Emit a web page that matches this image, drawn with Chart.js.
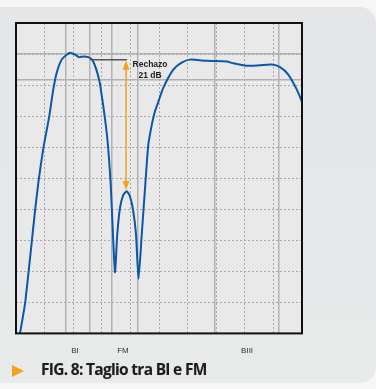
<!DOCTYPE html>
<html>
<head>
<meta charset="utf-8">
<script src="https://cdn.jsdelivr.net/npm/chart.js@4/dist/chart.umd.min.js"></script>
<style>
  html, body { margin: 0; padding: 0; background: #f6f6f6; }
  #wrap { position: relative; width: 376px; height: 389px; overflow: hidden; }
  #panel {
    position: absolute; left: -20px; top: 7px; width: 396px; height: 376px;
    background: linear-gradient(180deg, #e5e6e7 0%, #e7e8e9 70%, #e9eaea 100%);
    border-radius: 0 16px 16px 0;
  }
  canvas { position: absolute; left: 0; top: 0; }
  #caption {
    position: absolute; left: 41px; top: 358px;
    font-family: "Open Sans", sans-serif; font-weight: 700; font-size: 15.5px;
    color: #1e1e1e; letter-spacing: -0.7px; white-space: nowrap;
    text-shadow: 0 0 1px rgba(0,0,0,0.25);
  }
  #tri {
    position: absolute; left: 12px; top: 365px; width: 0; height: 0;
    border-top: 6px solid transparent; border-bottom: 6px solid transparent;
    border-left: 12px solid #f7a21b;
  }
</style>
</head>
<body>
<div id="wrap">
  <div id="panel"></div>
  <canvas id="grafico" width="376" height="389"></canvas>
  <div id="tri"></div>
  <div id="caption">FIG. 8: Taglio tra BI e FM</div>
</div>
<script>
// frecuencia (MHz) y nivel (dB)
const frecuencias = [3.5, 7.9, 10.8, 13.7, 16.6, 19.5, 23.9, 29.1, 32.6, 35.6, 39.9, 44.3, 47.2, 51.6, 55.1, 58.8, 63.2, 67.0,
  72.6, 76.3, 79.8, 82.8, 86.5, 88.5, 90.9, 93.8, 96.8, 99.6, 102.5, 104.9, 107.1, 109.9, 112.8, 115.6, 118.9, 121.5,
  124.4, 128.8, 137.5, 144.8, 152.1, 166.7, 184.2, 190.0, 201.7, 213.3, 223.5, 230.8, 238.0, 245.4, 250];
const niveles = [-50, -45.2, -40.4, -35.4, -30.3, -25.8, -20.2, -15.0, -10.7, -8.0, -5.9, -5.1, -4.8, -5.1, -5.5, -5.4, -5.5, -6.0,
  -9.1, -13.4, -18.6, -26.1, -40.1, -34.1, -29.8, -27.7, -27.1, -27.9, -30.3, -34.1, -41.2, -34.1, -26.6, -19.7, -16.2, -14.2,
  -12.7, -10.4, -7.5, -6.4, -5.9, -6.1, -6.2, -6.5, -6.9, -6.8, -6.7, -7.1, -8.3, -10.7, -12.7];

// bandas (etiquetas del eje) y lineas verticales continuas
const bandas = ["BI", "FM", "BIII"];
const bandasPos = [51.5, 93.5, 202];
const lineasX = [43.5, 64.8, 83.8, 106.5, 174, 230];
const lineasY = [-5, -9.2];

// rechazo
const rechazoRef = -5.9;
const rechazoPico = -26.9;
const rechazoX = [64.7, 96.2];
const rechazoTexto = ["Rechazo", "21 dB"];

const puntos = frecuencias.map((f, i) => ({ x: f, y: niveles[i] }));

const marco = {
  id: "marco",
  beforeDraw(chart) {
    const { ctx, chartArea: a } = chart;
    ctx.save();
    ctx.fillStyle = "#e9e9ea";
    ctx.fillRect(a.left, a.top, a.right - a.left, a.bottom - a.top);
    ctx.restore();
  },
  afterDatasetsDraw(chart) {
    const { ctx, chartArea: a, scales } = chart;
    ctx.save();
    ctx.strokeStyle = "#111";
    ctx.lineWidth = 2;
    ctx.strokeRect(a.left, a.top, a.right - a.left, a.bottom - a.top);

    const x0 = scales.x.getPixelForValue(rechazoX[0]);
    const xa = scales.x.getPixelForValue(rechazoX[1]);
    const yr = scales.y.getPixelForValue(rechazoRef);
    const yp = scales.y.getPixelForValue(rechazoPico);

    ctx.strokeStyle = "#555";
    ctx.lineWidth = 1.5;
    ctx.beginPath();
    ctx.moveTo(x0, yr);
    ctx.lineTo(xa + 1, yr);
    ctx.stroke();

    ctx.strokeStyle = "#f7a21b";
    ctx.fillStyle = "#f7a21b";
    ctx.lineWidth = 1.5;
    ctx.beginPath();
    ctx.moveTo(xa, yr + 8);
    ctx.lineTo(xa, yp - 8);
    ctx.stroke();
    ctx.beginPath();
    ctx.moveTo(xa, yr + 1);
    ctx.lineTo(xa - 3.5, yr + 10);
    ctx.lineTo(xa + 3.5, yr + 10);
    ctx.closePath();
    ctx.fill();
    ctx.beginPath();
    ctx.moveTo(xa, yp);
    ctx.lineTo(xa - 3.5, yp - 9);
    ctx.lineTo(xa + 3.5, yp - 9);
    ctx.closePath();
    ctx.fill();

    ctx.fillStyle = "#222";
    ctx.font = "bold 8.5px 'Liberation Sans', Arial, sans-serif";
    ctx.textAlign = "center";
    ctx.textBaseline = "middle";
    ctx.fillText(rechazoTexto[0], xa + 24, yr + 5);
    ctx.fillText(rechazoTexto[1], xa + 24, yr + 16);
    ctx.restore();
  }
};

new Chart(document.getElementById("grafico"), {
  type: "line",
  data: {
    datasets: [{
      data: puntos,
      borderColor: "#0b57a8",
      borderWidth: 2,
      pointRadius: 0,
      tension: 0.2,
      fill: false
    }]
  },
  options: {
    responsive: false,
    animation: false,
    events: [],
    layout: { padding: { left: 16, top: 23, right: 74, bottom: 28 } },
    plugins: { legend: { display: false }, tooltip: { enabled: false } },
    scales: {
      x: {
        type: "linear", min: 0, max: 250,
        ticks: { display: false, stepSize: 25 },
        grid: { color: "#a9a9a9", lineWidth: 1, drawTicks: false },
        border: { display: false, dash: [2, 2] }
      },
      xLineas: {
        type: "linear", position: "bottom", min: 0, max: 250,
        afterBuildTicks: axis => { axis.ticks = lineasX.map(v => ({ value: v })); },
        ticks: { display: false },
        grid: { color: "#b2b2b2", lineWidth: 1.5, drawTicks: false },
        border: { display: false }
      },
      xBandas: {
        type: "linear", position: "bottom", min: 0, max: 250,
        afterBuildTicks: axis => { axis.ticks = bandasPos.map(v => ({ value: v })); },
        ticks: {
          autoSkip: false, maxRotation: 0, padding: 5,
          color: "#333", font: { family: "'Liberation Sans', Arial, sans-serif", size: 8 },
          callback: (v, i) => bandas[i]
        },
        grid: { display: false },
        border: { display: false }
      },
      y: {
        type: "linear", min: -50, max: 0,
        ticks: { display: false, stepSize: 5 },
        grid: { color: "#a9a9a9", lineWidth: 1, drawTicks: false },
        border: { display: false, dash: [2, 2] }
      },
      yLineas: {
        type: "linear", position: "left", min: -50, max: 0,
        afterBuildTicks: axis => { axis.ticks = lineasY.map(v => ({ value: v })); },
        ticks: { display: false },
        grid: { color: "#b2b2b2", lineWidth: 1.5, drawTicks: false },
        border: { display: false }
      }
    }
  },
  plugins: [marco]
});
</script>
</body>
</html>
